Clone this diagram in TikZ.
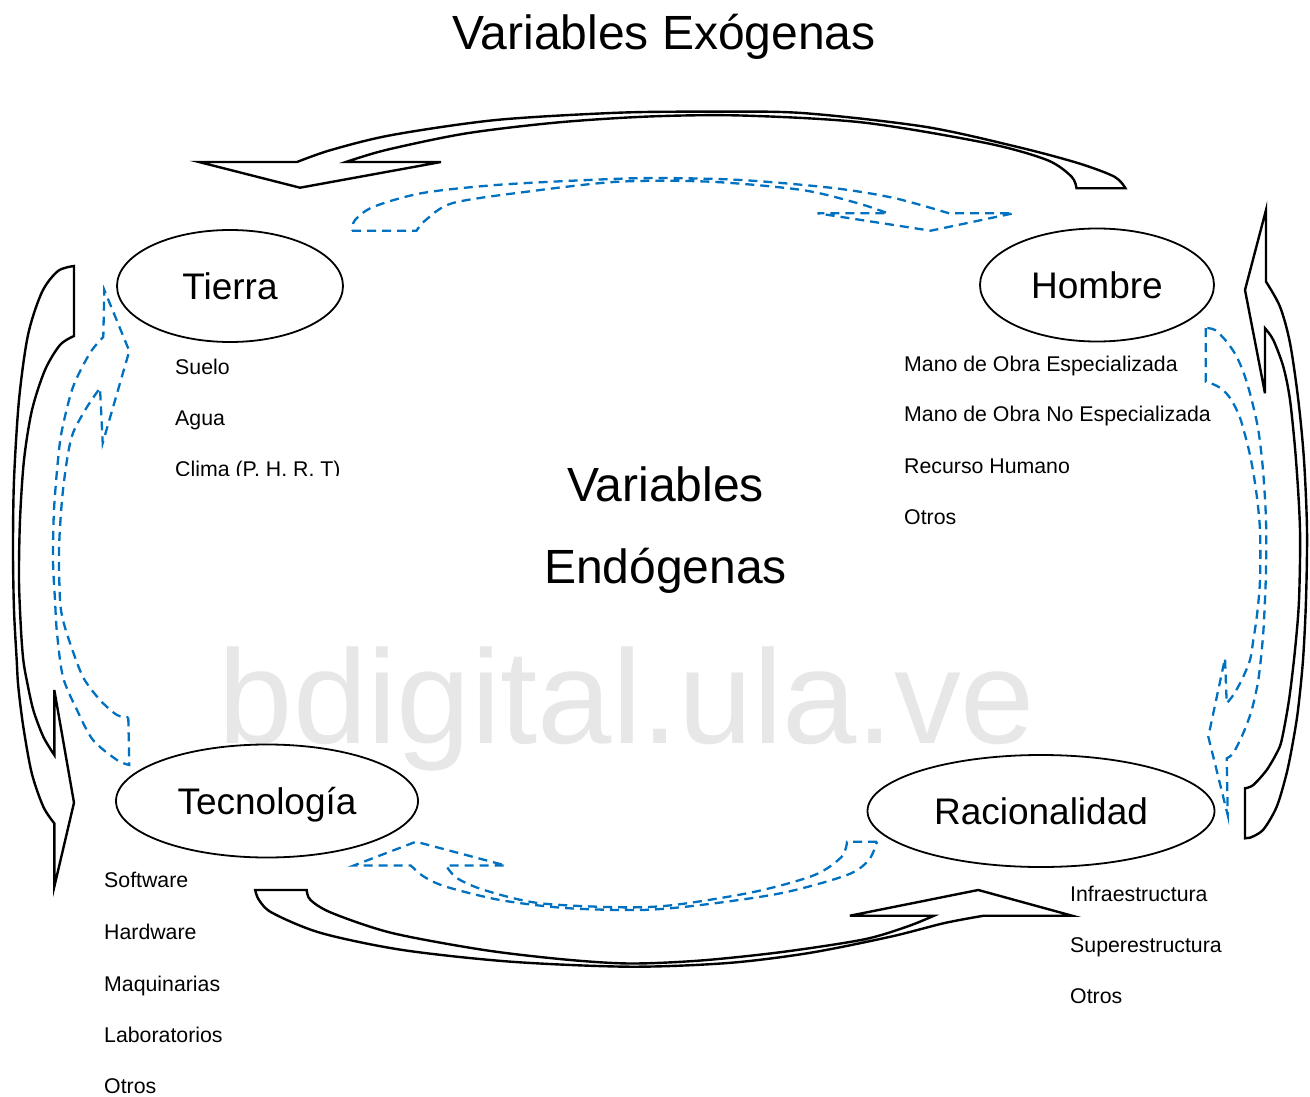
\documentclass[tikz,border=0pt]{standalone}
\usepackage{fontspec}
\setmainfont{Liberation Sans}
\usetikzlibrary{shapes.geometric}
\definecolor{arrowblue}{RGB}{0,112,192}
\definecolor{wmgray}{RGB}{231,231,231}
\begin{document}
\begin{tikzpicture}[x=1pt,y=-1pt,
  blk/.style={draw=black, line width=2.4pt, line join=miter},
  dsh/.style={draw=arrowblue, line width=2.3pt, dash pattern=on 9pt off 6pt},
  ell/.style={draw, ellipse, line width=1.8pt, inner sep=0pt, text height=26.5pt, text depth=0pt, font=\fontsize{37}{40}\selectfont},
  item/.style={anchor=base west, inner sep=0pt, font=\fontsize{21.3}{24}\selectfont},
  big/.style={anchor=base, inner sep=0pt, font=\fontsize{48}{52}\selectfont}]
\useasboundingbox (0,0) rectangle (1310,1097);

% watermark
\node[anchor=base, inner sep=0pt, text=wmgray, font=\fontsize{133.5}{140}\selectfont] (wm) at (627,743) {bdigital.ula.ve};

% title and centre text
\node[big] (title) at (664,49.5) {Variables Exógenas};
\node[big] (endo1) at (665.5,501) {Variables};
\node[big] (endo2) at (665.5,583) {Endógenas};

% ellipses
\node[ell, minimum width=226pt, minimum height=112pt] (tierra) at (230,286) {Tierra};
\node[ell, minimum width=234pt, minimum height=113pt] (hombre) at (1097,285) {Hombre};
\node[ell, minimum width=302pt, minimum height=113pt] (tecno) at (267,801) {Tecnología};
\node[ell, minimum width=347pt, minimum height=112pt] (racio) at (1041,811) {Racionalidad};

% lists
\node[item] (suelo) at (175,374.5) {Suelo};
\node[item] (agua) at (175,425.5) {Agua};
\begin{scope}
\clip (160,440) rectangle (400,475);
\node[item] (clima) at (175,476.5) {Clima (P. H. R. T)};
\end{scope}

\node[item] (h1) at (904,371.5) {Mano de Obra Especializada};
\node[item] (h2) at (904,421.5) {Mano de Obra No Especializada};
\node[item] (h3) at (904,473.5) {Recurso Humano};
\node[item] (h4) at (904,524.5) {Otros};

\node[item] (t1) at (104,887.5) {Software};
\node[item] (t2) at (104,939.5) {Hardware};
\node[item] (t3) at (104,991) {Maquinarias};
\node[item] (t4) at (104,1042.5) {Laboratorios};
\node[item] (t5) at (104,1093.5) {Otros};

\node[item] (r1) at (1070,901.5) {Infraestructura};
\node[item] (r2) at (1070,952.5) {Superestructura};
\node[item] (r3) at (1070,1003.5) {Otros};

% black block arrows
% top
\draw[blk] (1125.5,188.3) -- (1076.5,188.3) -- plot[smooth] coordinates {(1076.5,188.3) (1071.6,176.7) (1047,160) (986,143) (863,122.5) (741,115.5) (649,116.5) (557,122.5) (465.5,133.5) (386,150) (346,162)} -- (441,162) -- (300,187.7) -- (199,162) -- plot[smooth] coordinates {(297,162) (331,150) (392,135) (496,120) (618.6,112.7) (710,111.7) (802,113) (924.6,126.7) (1016.5,146.7) (1077.7,163) (1114.4,176.7) (1125.5,188.3)} -- cycle;
% bottom
\draw[blk] (255.2,890) -- (306.7,890) -- plot[smooth] coordinates {(306.7,890) (310.5,900) (332,913) (392,933) (484,950) (565,959.5) (630,963.5) (700.8,960.5) (782,952) (863.4,939.5) (906.8,926.7) (934,915.7)} -- (849.9,915.7) -- (978.3,890) -- (1072,915.7) -- plot[smooth] coordinates {(983.8,915.7) (944.7,923) (890.5,936.7) (809,953) (728,963) (630,966.7) (511,961.7) (402.6,950) (321,933) (272.5,913) (259,900) (255.2,890)} -- cycle;
% left
\draw[blk] (74,266) -- (74,336) -- plot[smooth] coordinates {(74,336) (60,345) (45,370) (32,410) (24,460) (20,520) (19,580) (21,630) (23.3,660) (26.7,680) (33.3,710) (43.3,736.7) (54.3,755)} -- (54.3,690) -- (74,802.7) -- (54.3,886.7) -- plot[smooth] coordinates {(54.3,823.3) (43.3,806.7) (31.7,773) (23.3,726.7) (18.3,686.7) (16.7,660) (14,610) (13,550) (14,480) (19,400) (28,335) (42,292) (58,271) (74,266)} -- cycle;
% right
\draw[blk] (1245,838.3) -- (1245,788.3) -- plot[smooth] coordinates {(1245,788.3) (1253.3,785) (1266.7,770) (1276.7,753) (1281.7,740) (1289,700) (1295,650) (1299,600) (1300,530) (1296,460) (1290,400) (1283.3,366.7) (1273.3,340) (1265,328.3)} -- (1265,393.3) -- (1245,290) -- (1266,210) -- plot[smooth] coordinates {(1266,281.7) (1280,306.7) (1290,343) (1298.3,400) (1304,460) (1307,530) (1306,600) (1303,660) (1298,710) (1293.3,740) (1286.7,773) (1276.7,806.7) (1263,830) (1250,837.7)} -- cycle;

% dashed blue arrows
% top
\draw[dsh] (352,230.7) -- (416.5,230.7) -- plot[smooth] coordinates {(416.5,230.7) (425.7,220) (453,203) (527,191.7) (618.6,181.7) (710,181.7) (802,190) (857,203) (888,213.3)} -- (817.5,213.3) -- (930.7,230.7) -- (1013.4,213.3) -- plot[smooth] coordinates {(949,213.3) (894,198) (833,188) (741,180) (655,178) (588,180) (496,185) (422.6,193) (373.7,206.7) (355,220) (352,230.7)} -- cycle;
% bottom
\draw[dsh] (877,841.7) -- (847,841.7) -- plot[smooth] coordinates {(847,841.7) (841.7,856.7) (814.6,875) (755,891.7) (673.7,905) (619.5,907.3) (538,903) (484,890) (456.8,878) (446,865.5)} -- (505.6,865.5) -- (416,841.7) -- (353.8,865.5) -- plot[smooth] coordinates {(410.8,865.5) (424,876.7) (446,886.7) (500,900) (565,908) (641,910) (700.8,905) (782,893) (847,875) (868.8,860) (877,841.7)} -- cycle;
% left
\draw[dsh] (128.3,717.3) -- (129.3,765) -- plot[smooth] coordinates {(129.3,765) (117,760) (93,740) (77,710) (63,677) (57,633) (55,600) (53,560) (54,510) (58,460) (62,430) (73,387) (90,353) (103.3,337)} -- (104.3,290) -- (129.3,351) -- (102.7,443) -- plot[smooth] coordinates {(100,388) (87,407) (73,433) (67,460) (62,500) (59,550) (60,600) (63,620) (70,643) (83,677) (100,700) (117,715) (128.3,717.3)} -- cycle;
% right
\draw[dsh] (1205.7,328) -- (1205.7,381.7) -- plot[smooth] coordinates {(1205.7,381.7) (1215,385) (1223,390) (1230,398) (1236.7,410) (1241.7,423) (1250,455) (1256,490) (1260,530) (1260,580) (1257,615) (1253.3,640) (1250,660) (1241.7,680) (1233.3,695) (1226.7,703.3)} -- (1225,658.3) -- (1208.3,736.7) -- (1227.7,815) -- plot[smooth] coordinates {(1226.7,758.3) (1233.3,753) (1243.3,733) (1251.7,710) (1258.3,680) (1262.7,640) (1264.5,610) (1266,570) (1266,520) (1263,470) (1258.3,430) (1251.7,400) (1245,376.7) (1236.7,356.7) (1226.7,341.7) (1215,330) (1205.7,328)} -- cycle;
\end{tikzpicture}
\end{document}
